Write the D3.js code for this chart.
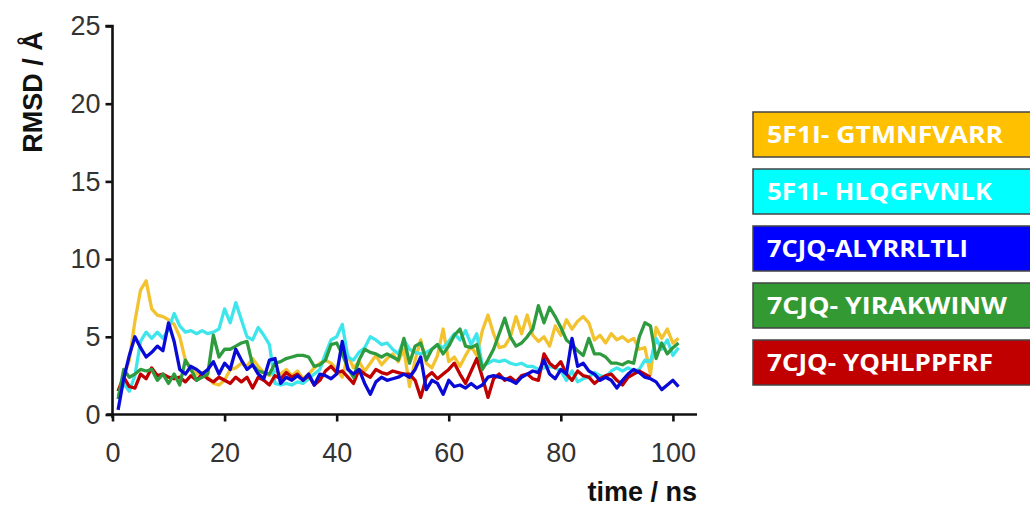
<!DOCTYPE html>
<html><head><meta charset="utf-8">
<script src="https://cdn.jsdelivr.net/npm/d3@7"></script>
<style>body{margin:0;background:#fff}svg{display:block}</style>
</head><body><svg id="c" width="1030" height="523"></svg>
<script>
const time = d3.range(1, 102);
const yTicks = [0, 5, 10, 15, 20, 25];
const xTicks = [0, 20, 40, 60, 80, 100];
const seriesNames = ["5F1I- GTMNFVARR", "5F1I- HLQGFVNLK", "7CJQ-ALYRRLTLI", "7CJQ- YIRAKWINW", "7CJQ- YQHLPPFRF"];
const yellow = [1.5,2.5,3.5,6.0,8.0,8.6,6.8,6.4,6.3,6.1,5.8,5.0,3.5,2.9,2.6,2.7,2.4,2.0,1.9,2.2,
2.9,3.0,3.3,3.1,3.6,3.1,2.7,2.5,2.8,2.6,2.9,2.5,2.8,2.3,2.6,3.0,3.3,3.5,3.3,2.9,
2.4,3.8,3.0,3.4,2.8,3.3,3.8,3.2,3.6,3.9,3.4,4.2,1.8,3.5,4.8,3.3,3.0,3.8,5.5,3.4,
3.7,3.1,3.8,4.4,3.8,5.4,6.4,5.2,4.3,4.4,5.0,6.3,5.2,6.4,5.1,4.7,5.0,4.4,5.7,5.1,
6.1,5.5,6.0,6.3,5.9,4.8,5.1,4.6,5.2,4.8,5.0,4.7,4.9,4.2,4.3,2.6,5.6,4.9,5.5,4.6,4.9];
const cyan = [1.2,2.0,1.5,2.5,4.7,5.3,4.9,5.3,4.9,5.5,6.5,5.7,5.3,5.4,5.2,5.4,5.2,5.3,5.5,6.8,
5.9,7.2,6.1,5.0,4.8,5.6,5.1,4.5,2.0,1.9,2.0,1.9,2.1,2.0,2.3,2.6,2.9,3.9,4.8,5.0,
5.8,3.7,3.5,4.0,4.3,5.0,4.8,4.5,4.6,4.2,3.9,4.8,4.2,4.0,3.9,4.0,4.2,4.5,4.3,4.7,
5.2,4.8,5.4,4.5,5.2,3.1,3.3,3.5,3.4,3.5,3.3,3.2,3.3,3.1,3.1,2.9,3.0,3.1,3.0,2.8,
2.2,2.8,2.1,2.3,2.4,2.7,2.5,2.4,2.8,3.0,2.8,3.0,2.8,2.9,3.5,3.4,4.9,4.2,4.8,3.8,4.3];
const blue = [0.3,2.3,3.8,5.0,4.3,3.7,4.0,4.4,4.1,5.9,4.7,2.9,2.6,3.1,2.9,2.6,2.9,3.4,2.6,3.3,
2.9,4.2,3.5,2.9,3.2,2.6,2.3,3.5,3.6,2.0,2.4,2.2,2.5,2.2,2.6,1.9,2.6,2.5,2.3,2.6,
4.7,2.9,2.6,2.9,2.0,1.3,2.1,2.4,2.2,2.3,2.4,2.6,2.4,2.9,3.7,1.6,2.2,2.0,1.3,2.2,
1.8,1.9,1.7,2.0,1.7,1.9,2.4,2.5,2.4,2.3,2.2,2.0,2.4,2.6,2.8,2.7,3.5,2.6,2.3,2.9,
2.6,4.9,3.1,3.3,2.8,2.6,2.2,2.4,2.2,1.7,2.2,2.6,2.9,2.7,2.4,2.3,2.1,1.6,1.9,2.2,1.8];
const green = [1.0,2.9,2.4,2.6,2.9,2.8,2.9,2.2,2.6,2.0,2.6,1.9,3.5,2.9,2.2,2.4,2.6,5.1,3.7,4.2,
4.2,4.4,4.6,4.7,3.2,2.8,2.7,2.6,3.3,3.4,3.6,3.7,3.8,3.8,3.7,3.1,3.2,3.5,4.5,4.6,
3.9,3.0,2.4,3.5,4.2,4.0,3.9,3.7,3.9,3.7,3.5,4.9,3.3,4.4,4.6,3.5,4.2,4.5,3.9,4.4,
5.1,5.5,4.4,4.3,4.5,2.9,3.5,4.2,5.2,6.2,5.0,4.4,4.6,5.0,5.5,7.0,5.9,6.9,6.3,5.6,
4.8,4.5,4.1,3.8,4.9,3.9,3.9,3.7,3.3,3.3,3.2,3.4,3.3,5.0,5.9,5.7,3.6,4.6,3.9,4.3,4.6];
const red = [1.5,2.4,1.8,1.7,2.6,2.3,3.0,2.5,2.6,2.4,2.3,2.4,2.1,2.5,2.2,2.6,2.3,2.1,2.4,2.2,
2.0,2.4,2.1,2.4,1.7,2.4,2.2,1.9,2.5,2.3,2.7,2.4,2.6,2.2,2.5,1.9,2.2,2.8,3.1,2.7,
2.8,2.4,2.0,2.9,2.6,2.4,2.9,2.7,2.6,2.8,2.7,2.6,2.6,2.2,1.1,2.4,2.7,2.3,2.6,2.9,
3.3,2.6,2.0,2.8,3.6,2.4,1.1,2.3,2.6,2.2,2.4,2.1,2.5,2.6,2.3,2.2,3.9,3.3,3.0,3.4,
2.6,2.2,2.8,2.5,2.4,2.0,2.3,2.5,2.6,2.2,1.9,2.4,2.6,2.8,2.6,2.4,null,null,null,null,null];
const lineColors = ["#f3c22f", "#3ee6ec", "#0a0ad6", "#2e9b3e", "#c00000"];
const boxColors = ["#ffc000", "#00ffff", "#0000ff", "#339933", "#c00000"];
const textWidths = [236, 225, 201, 240, 226];

const svg = d3.select("#c");
const x = d3.scaleLinear().domain([0, 104.3]).range([112.5, 697]);
const y = d3.scaleLinear().domain([0, 25]).range([414.5, 26]);

// lines
const seriesData = [yellow, cyan, red, green, blue];
const seriesCol = [lineColors[0], lineColors[1], lineColors[4], lineColors[3], lineColors[2]];
const line = d3.line().defined(d => d[1] != null).x(d => x(d[0])).y(d => y(d[1]));
seriesData.forEach((s, i) => {
  svg.append("path")
    .datum(time.map((t, j) => [t, s[j]]))
    .attr("d", line).attr("fill", "none")
    .attr("stroke", seriesCol[i]).attr("stroke-width", 3.3)
    .attr("stroke-linejoin", "round");
});

// axes
const font = "'Liberation Sans', Arial, sans-serif";
const yAxis = svg.append("g").attr("transform", "translate(112.5,0)")
  .call(d3.axisLeft(y).tickValues(yTicks).tickSize(7).tickPadding(5));
const xAxis = svg.append("g").attr("transform", "translate(0,414.5)")
  .call(d3.axisBottom(x).tickValues(xTicks).tickSize(7).tickPadding(21));
[yAxis, xAxis].forEach(a => {
  a.attr("font-size", null).attr("font-family", null);
  a.select(".domain").attr("stroke", "#111").attr("stroke-width", 2.6);
  a.selectAll(".tick line").attr("stroke", "#111").attr("stroke-width", 2.6);
  a.selectAll("text").attr("font-family", font).attr("font-size", 27).attr("fill", "#333");
});
yAxis.select(".domain").attr("d", "M-7,26H0V418");
xAxis.select(".domain").attr("d", `M${112.5-6},0H697`);

svg.append("text").attr("transform", "translate(42,92) rotate(-90)")
  .attr("text-anchor", "middle").attr("font-family", font).attr("font-weight", "bold")
  .attr("font-size", 27).attr("fill", "#111").text("RMSD / Å");
svg.append("text").attr("x", 697).attr("y", 501).attr("text-anchor", "end")
  .attr("font-family", font).attr("font-weight", "bold")
  .attr("font-size", 27).attr("fill", "#111").text("time / ns");

// legend boxes
const lg = svg.append("g");
seriesNames.forEach((n, i) => {
  const top = 112 + i * 57;
  lg.append("rect").attr("x", 753).attr("y", top).attr("width", 290).attr("height", 45)
    .attr("fill", boxColors[i]).attr("stroke", "#444").attr("stroke-width", 1.5);
  lg.append("text").attr("x", 767).attr("y", top + 31)
    .attr("font-family", "'Open Sans', sans-serif").attr("font-weight", "bold")
    .attr("font-size", 24).attr("fill", "#fff")
    .attr("textLength", textWidths[i]).attr("lengthAdjust", "spacingAndGlyphs")
    .text(n);
});
</script></body></html>
